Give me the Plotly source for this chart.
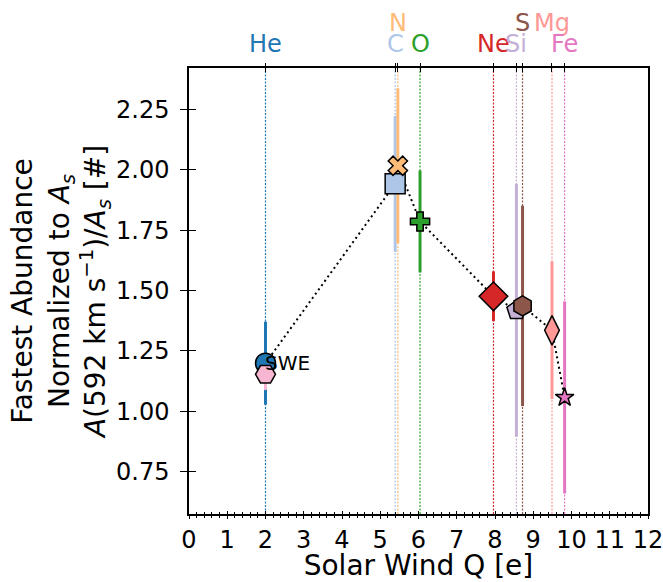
import plotly.graph_objects as go

# ---- data -------------------------------------------------------------
elements = ["He", "C", "N", "O", "Ne", "Si", "S", "Mg", "Fe"]
charge_q = [2.00, 5.39, 5.46, 6.04, 7.96, 8.56, 8.72, 9.49, 9.82]
abundance = [1.199, 1.942, 2.017, 1.786, 1.476, 1.418, 1.436, 1.335, 1.057]
abundance_err = [0.172, 0.282, 0.321, 0.211, 0.103, 0.524, 0.415, 0.285, 0.398]

swe_label = "SWE"
swe_q = [2.00]
swe_abundance = [1.153]
swe_err = [0.065]

x_ticks = list(range(0, 13))
y_ticks = [0.75, 1.00, 1.25, 1.50, 1.75, 2.00, 2.25]

# ---- styles -----------------------------------------------------------
colors = ["#1f77b4", "#aec7e8", "#ffbb78", "#2ca02c", "#d62728",
          "#c5b0d5", "#8c564b", "#ff9896", "#e377c2"]
symbols = ["circle", "square", "x", "cross", "diamond",
           "pentagon", "hexagon", "diamond-tall", "star"]
sizes = [20, 20, 17, 16, 22, 20, 20, 21, 14]
raised = {"N", "S", "Mg"}
swe_color = "#f7b6d2"

X_RANGE = [0, 12]
Y_RANGE = [0.574, 2.422]
FONT = "DejaVu Sans"

fig = go.Figure()

# element reference lines
for q, c in zip(charge_q, colors):
    fig.add_vline(x=q, line=dict(color=c, width=1.2, dash="2px,1.5px"), layer="below")

# error bars (drawn beneath all markers)
fig.add_trace(go.Scatter(
    x=[charge_q[0]], y=[abundance[0]], mode="markers",
    marker=dict(size=1, opacity=0),
    error_y=dict(type="data", array=[abundance_err[0]], color=colors[0], thickness=3, width=0),
    hoverinfo="skip", showlegend=False))
fig.add_trace(go.Scatter(
    x=swe_q, y=swe_abundance, mode="markers",
    marker=dict(size=1, opacity=0),
    error_y=dict(type="data", array=swe_err, color=swe_color, thickness=3, width=0),
    hoverinfo="skip", showlegend=False))
for i in range(1, len(elements)):
    fig.add_trace(go.Scatter(
        x=[charge_q[i]], y=[abundance[i]], mode="markers",
        marker=dict(size=1, opacity=0),
        error_y=dict(type="data", array=[abundance_err[i]], color=colors[i], thickness=3, width=0),
        hoverinfo="skip", showlegend=False))

# connecting dotted line
fig.add_trace(go.Scatter(
    x=charge_q, y=abundance, mode="lines",
    line=dict(color="black", width=2, dash="2px,3.3px"),
    hoverinfo="skip", showlegend=False))

# markers
fig.add_trace(go.Scatter(
    x=[charge_q[0]], y=[abundance[0]], mode="markers", name=elements[0],
    marker=dict(symbol=symbols[0], size=sizes[0], color=colors[0],
                line=dict(color="black", width=1.5)),
    showlegend=False))
fig.add_trace(go.Scatter(
    x=swe_q, y=swe_abundance, mode="markers", name=swe_label,
    marker=dict(symbol="hexagon2", size=20, color=swe_color,
                line=dict(color="black", width=1.5)),
    showlegend=False))
for i in range(1, len(elements)):
    fig.add_trace(go.Scatter(
        x=[charge_q[i]], y=[abundance[i]], mode="markers", name=elements[i],
        marker=dict(symbol=symbols[i], size=sizes[i], color=colors[i],
                    line=dict(color="black", width=1.5)),
        showlegend=False))

# placeholder traces so overlay axes are rendered
for xa, ya in [("x2", "y"), ("x3", "y"), ("x4", "y"), ("x", "y2")]:
    fig.add_trace(go.Scatter(x=[None], y=[None], xaxis=xa, yaxis=ya,
                             mode="markers", hoverinfo="skip", showlegend=False))

# SWE label
fig.add_annotation(x=swe_q[0], y=abundance[0], xref="x", yref="y", text=swe_label,
                   showarrow=False, xanchor="left", yanchor="middle", xshift=-3,
                   font=dict(family=FONT, size=20, color="black"))

# element labels above the top axis
for el, q, c in zip(elements, charge_q, colors):
    fig.add_annotation(x=q, y=1.101 if el in raised else 1.054, xref="x", yref="paper",
                       text=el, showarrow=False, xanchor="center", yanchor="middle",
                       font=dict(family=FONT, size=24, color=c))

axis_common = dict(showgrid=False, zeroline=False, tickcolor="black", automargin=False)

fig.update_layout(
    width=663, height=582,
    margin=dict(l=189, r=15, t=68, b=68, autoexpand=False),
    paper_bgcolor="white", plot_bgcolor="white",
    font=dict(family=FONT, color="black"),
    showlegend=False,
    xaxis=dict(range=X_RANGE, tickvals=x_ticks, ticks="outside", ticklen=3, tickwidth=1.3,
               showline=True, linecolor="black", linewidth=1.5, mirror=True,
               ticklabeloverflow="allow",
               minor=dict(dtick=0.2, tick0=0, ticks="outside", ticklen=2, tickwidth=1,
                          tickcolor="black", showgrid=False),
               tickfont=dict(size=24), title=dict(text="Solar Wind Q [e]", font=dict(size=28)),
               **axis_common),
    xaxis3=dict(range=X_RANGE, overlaying="x", anchor="y", side="bottom", tickvals=x_ticks,
                ticks="inside", ticklen=3, tickwidth=1.3, showticklabels=False, showline=False,
                minor=dict(dtick=0.2, tick0=0, ticks="inside", ticklen=2, tickwidth=1,
                           tickcolor="black", showgrid=False),
                **axis_common),
    xaxis2=dict(range=X_RANGE, overlaying="x", anchor="y", side="top", tickvals=charge_q,
                ticks="outside", ticklen=4, tickwidth=1.3, showticklabels=False, showline=False,
                **axis_common),
    xaxis4=dict(range=X_RANGE, overlaying="x", anchor="y", side="top", tickvals=charge_q,
                ticks="inside", ticklen=4, tickwidth=1.3, showticklabels=False, showline=False,
                **axis_common),
    yaxis=dict(range=Y_RANGE, tickvals=y_ticks, ticktext=[f"{v:.2f}" for v in y_ticks],
               ticks="outside", ticklen=7, tickwidth=1.3,
               showline=True, linecolor="black", linewidth=1.5, mirror=True,
               tickfont=dict(size=24), ticklabelstandoff=6,
               title=dict(text="Fastest Abundance<br>Normalized to <i>A</i><sub><i>s</i></sub><br>"
                               "<i>A</i>(592 km s<sup>\u22121</sup>)/<i>A</i><sub><i>s</i></sub> [#]",
                          font=dict(size=28), standoff=2),
               **axis_common),
    yaxis2=dict(range=Y_RANGE, overlaying="y", anchor="x", side="left", tickvals=y_ticks,
                ticks="inside", ticklen=7, tickwidth=1.3, showticklabels=False, showline=False,
                **axis_common),
)

fig.write_html("out.html", config={"displayModeBar": False},
               post_script="document.body.style.margin='0';document.body.style.overflow='hidden';")
